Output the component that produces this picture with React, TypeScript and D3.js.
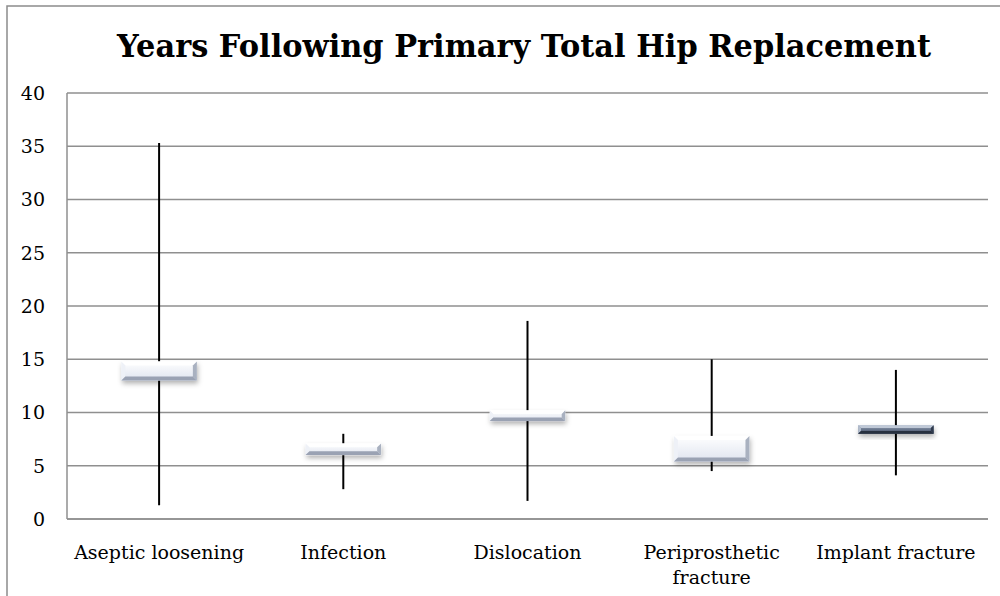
import React from 'react'
import * as d3 from 'd3'

const categories = ['Aseptic loosening', 'Infection', 'Dislocation', 'Periprosthetic fracture', 'Implant fracture']
const highs = [35.3, 8.0, 18.6, 15.0, 14.0]
const lows = [1.3, 2.8, 1.7, 4.5, 4.1]
const opens = [13.0, 6.0, 9.2, 5.4, 8.8]
const closes = [14.8, 7.1, 10.2, 7.8, 8.0]
const yTicks = [0, 5, 10, 15, 20, 25, 30, 35, 40]

const W = 1000
const H = 596
const margin = { left: 67, top: 93, right: 12, bottom: 77 }

const serif = "'DejaVu Serif', 'Liberation Serif', serif"

export default function App() {
  const innerWidth = W - margin.left - margin.right
  const innerHeight = H - margin.top - margin.bottom

  const xScale = d3.scaleBand().domain(categories).range([0, innerWidth])
  const yScale = d3.scaleLinear().domain([0, 40]).range([innerHeight, 0])
  const boxW = xScale.bandwidth() * 0.41
  const bev = 4

  const splitLabel = (s: string) => (s === 'Periprosthetic fracture' ? ['Periprosthetic', 'fracture'] : [s])

  return (
    <svg width={W} height={H} style={{ position: 'absolute', left: 0, top: 0, background: '#fff' }}>
      <defs>
        <linearGradient id="upFill" x1="0" y1="0" x2="0" y2="1">
          <stop offset="0" stopColor="#ffffff" />
          <stop offset="1" stopColor="#dfe4ef" />
        </linearGradient>
        <linearGradient id="downFill" x1="0" y1="0" x2="0" y2="1">
          <stop offset="0" stopColor="#9aa6bb" />
          <stop offset="1" stopColor="#3a475e" />
        </linearGradient>
        <filter id="shadow" x="-20%" y="-50%" width="140%" height="220%">
          <feDropShadow dx="1" dy="3" stdDeviation="2.5" floodColor="#000" floodOpacity="0.3" />
        </filter>
      </defs>
      <rect x={7} y={6} width={1000} height={600} fill="none" stroke="#8c8c8c" strokeWidth={1.5} />
      <text x={524} y={57} textAnchor="middle" fontFamily={serif} fontWeight="bold" fontSize={32}
        textLength={814} lengthAdjust="spacingAndGlyphs">
        Years Following Primary Total Hip Replacement
      </text>
      <g transform={`translate(${margin.left},${margin.top})`}>
        {yTicks.map((t, i) => (
          <g key={i}>
            <line x1={0} x2={innerWidth} y1={yScale(t)} y2={yScale(t)} stroke="#8f8f8f" strokeWidth={1.5} />
            <text x={-22} y={yScale(t)} dy=".36em" textAnchor="end" fontFamily={serif} fontSize={19}>
              {t}
            </text>
          </g>
        ))}
        <line x1={0} x2={0} y1={0} y2={innerHeight} stroke="#8f8f8f" strokeWidth={1.5} />
        {categories.map((c, i) => {
          const cx = (xScale(c) as number) + xScale.bandwidth() / 2
          const top = yScale(Math.max(opens[i], closes[i]))
          const bot = yScale(Math.min(opens[i], closes[i]))
          const h = bot - top
          const x0 = cx - boxW / 2
          const x1 = cx + boxW / 2
          const down = closes[i] < opens[i]
          const b = Math.min(bev, h / 3)
          return (
            <g key={c}>
              <line x1={cx} x2={cx} y1={yScale(highs[i])} y2={yScale(lows[i])} stroke="#000" strokeWidth={2} />
              <g filter="url(#shadow)">
                <rect x={x0} y={top} width={boxW} height={h} fill={down ? 'url(#downFill)' : 'url(#upFill)'} />
              </g>
              <polygon
                points={`${x0},${top} ${x1},${top} ${x1 - b},${top + b} ${x0 + b},${top + b}`}
                fill={down ? '#c5cedc' : '#ffffff'}
                opacity={0.9}
              />
              <polygon
                points={`${x0},${top} ${x0 + b},${top + b} ${x0 + b},${bot - b} ${x0},${bot}`}
                fill={down ? '#b3bdcd' : '#eef1f7'}
              />
              <polygon
                points={`${x1},${top} ${x1 - b},${top + b} ${x1 - b},${bot - b} ${x1},${bot}`}
                fill={down ? '#2f3a4d' : '#a9b1c0'}
              />
              <polygon
                points={`${x0},${bot} ${x0 + b},${bot - b} ${x1 - b},${bot - b} ${x1},${bot}`}
                fill={down ? '#27303f' : '#9aa2b3'}
              />
            </g>
          )
        })}
        <line x1={0} x2={innerWidth} y1={innerHeight} y2={innerHeight} stroke="#8f8f8f" strokeWidth={1.5} />
        {categories.map(c => {
          const cx = (xScale(c) as number) + xScale.bandwidth() / 2
          return (
            <text key={c} x={cx} y={innerHeight + 40} textAnchor="middle" fontFamily={serif} fontSize={19}>
              {splitLabel(c).map((l, j) => (
                <tspan key={j} x={cx} dy={j === 0 ? 0 : 25}>
                  {l}
                </tspan>
              ))}
            </text>
          )
        })}
      </g>
    </svg>
  )
}
